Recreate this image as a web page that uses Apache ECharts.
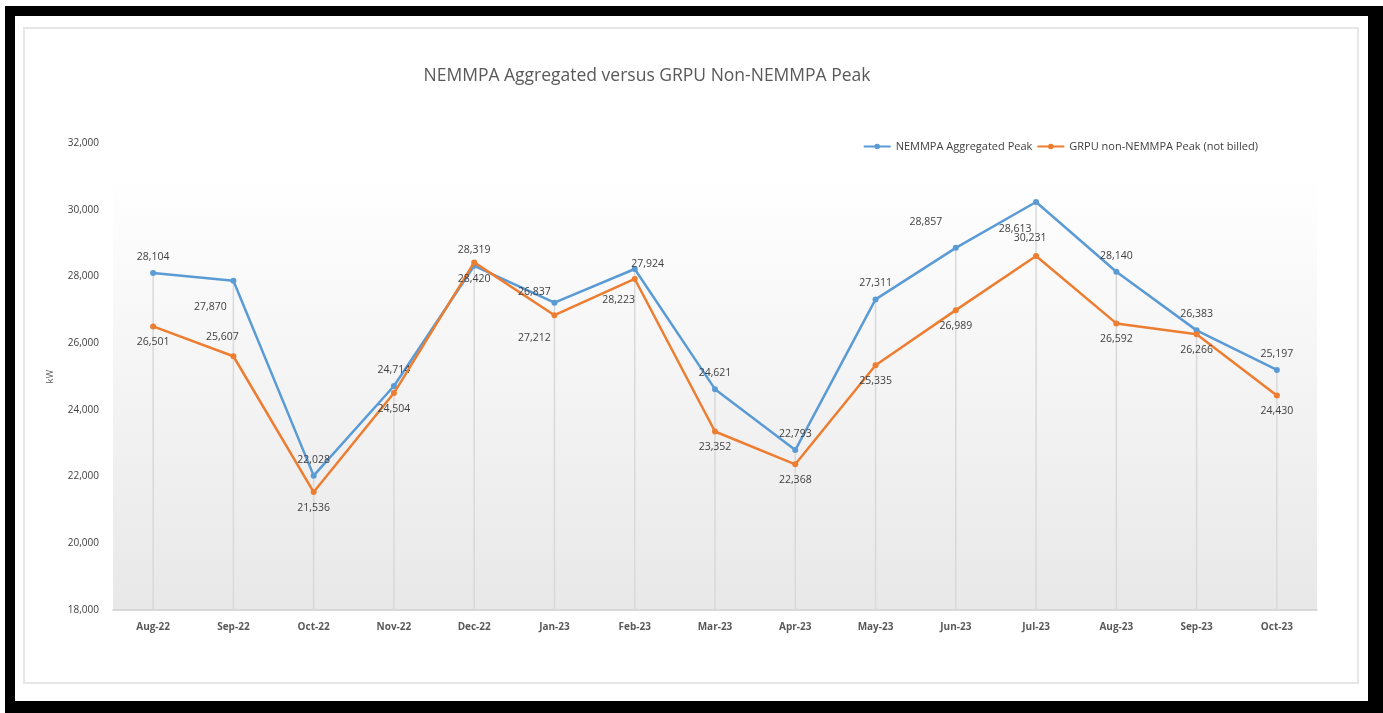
<!DOCTYPE html>
<html>
<head>
<meta charset="utf-8">
<script src="https://cdn.jsdelivr.net/npm/echarts@6/dist/echarts.min.js"></script>
<style>
html,body{margin:0;padding:0;background:#fff;}
#frame{position:absolute;left:5px;top:6px;width:1378px;height:707px;box-sizing:border-box;border:10px solid #000;border-right-width:15px;border-bottom-width:12px;background:#fff;}
#inner{position:absolute;left:23px;top:27px;width:1336px;height:657px;box-sizing:border-box;border:2px solid #e6e6e6;}
#chart{position:absolute;left:0;top:0;width:1383px;height:713px;}
</style>
</head>
<body>
<div id="frame"></div>
<div id="inner"></div>
<div id="chart"></div>
<script>
// ---- data ----
var categories = ['Aug-22','Sep-22','Oct-22','Nov-22','Dec-22','Jan-23','Feb-23','Mar-23','Apr-23','May-23','Jun-23','Jul-23','Aug-23','Sep-23','Oct-23'];
var nemmpaAggregated = [28104, 27870, 22028, 24714, 28319, 27212, 28223, 24621, 22793, 27311, 28857, 30231, 28140, 26383, 25197];
var grpuNonNemmpa   = [26501, 25607, 21536, 24504, 28420, 26837, 27924, 23352, 22368, 25335, 26989, 28613, 26592, 26266, 24430];
var yTicks = [18000, 20000, 22000, 24000, 26000, 28000, 30000, 32000];

// ---- label placement (style only) ----
var blueLabelOffset = {
  1: [-23, 26],   // Sep-22 below-left
  5: [-20, 35],   // Jan-23 below
  6: [-16, 31],   // Feb-23 below-left
  10: [-30, -26], // Jun-23 above-left
  11: [-6, 36]    // Jul-23 below
};
var orangeLabelOffset = {
  1: [-11, -19],  // Sep-22 above-left
  4: [0, 17],
  5: [-20, -23],  // Jan-23 above
  6: [13, -15],   // Feb-23 above-right
  11: [-21, -27]  // Jul-23 above
};

function fmt(v){ return v.toLocaleString('en-US'); }

function buildSeriesData(values, offsets, defaultOffset){
  return values.map(function(v, i){
    var off = offsets[i] || defaultOffset;
    return { value: v, label: { position: 'inside', offset: off } };
  });
}

var dropValues = nemmpaAggregated.map(function(v, i){ return Math.max(v, grpuNonNemmpa[i]); });

var chart = echarts.init(document.getElementById('chart'));
var labelStyle = { show: true, color: '#404040', fontSize: 10.5, fontFamily: 'Open Sans', formatter: function(p){ return fmt(p.value); } };

chart.setOption({
  animation: false,
  title: {
    text: 'NEMMPA Aggregated versus GRPU Non-NEMMPA Peak',
    left: 642, top: 62, textAlign: 'center',
    textStyle: { color: '#595959', fontSize: 17.5, fontWeight: 'normal', fontFamily: 'Open Sans' }
  },
  legend: {
    right: 120, top: 136,
    itemWidth: 27, itemHeight: 7, itemGap: 4,
    textStyle: { color: '#404040', fontSize: 11, fontFamily: 'Open Sans' },
    data: ['NEMMPA Aggregated Peak', 'GRPU non-NEMMPA Peak (not billed)']
  },
  graphic: [{
    type: 'rect', z: -10, silent: true,
    shape: { x: 113, y: 143, width: 1204, height: 467 },
    style: { fill: new echarts.graphic.LinearGradient(0, 0, 0, 1, [
      { offset: 0, color: '#ffffff' }, { offset: 0.07, color: '#ffffff' }, { offset: 1, color: '#e8e8e8' }
    ]) }
  }],
  grid: { left: 113, right: 66, top: 143, bottom: 103 },
  xAxis: {
    type: 'category', data: categories, boundaryGap: true,
    axisLine: { lineStyle: { color: '#d0d0d0', width: 1.5 } },
    axisTick: { show: false },
    axisLabel: { color: '#595959', fontSize: 10, fontWeight: 'bold', fontFamily: 'Open Sans', margin: 12 },
    splitLine: { show: false }
  },
  yAxis: {
    type: 'value', min: yTicks[0], max: yTicks[yTicks.length - 1], interval: 2000,
    name: 'kW', nameLocation: 'middle', nameGap: 58, nameRotate: 90,
    nameTextStyle: { color: '#595959', fontSize: 9.5, fontFamily: 'Open Sans' },
    axisLine: { show: false }, axisTick: { show: false },
    splitLine: { show: false },
    axisLabel: { color: '#404040', fontSize: 10, fontFamily: 'Open Sans', margin: 14, formatter: function(v){ return fmt(v); } }
  },
  series: [
    {
      name: 'drop', type: 'bar', data: dropValues, barWidth: 1.5, silent: true, z: 1,
      itemStyle: { color: '#d9d9d9' }, legendHoverLink: false, tooltip: { show: false }
    },
    {
      name: 'NEMMPA Aggregated Peak', type: 'line', z: 3,
      data: buildSeriesData(nemmpaAggregated, blueLabelOffset, [0, -16]),
      symbol: 'circle', symbolSize: 6,
      lineStyle: { color: '#5b9bd5', width: 2.5 },
      itemStyle: { color: '#5b9bd5' },
      label: labelStyle
    },
    {
      name: 'GRPU non-NEMMPA Peak (not billed)', type: 'line', z: 4,
      data: buildSeriesData(grpuNonNemmpa, orangeLabelOffset, [0, 16]),
      symbol: 'circle', symbolSize: 6,
      lineStyle: { color: '#ed7d31', width: 2.5 },
      itemStyle: { color: '#ed7d31' },
      label: labelStyle
    }
  ]
});
</script>
</body>
</html>
